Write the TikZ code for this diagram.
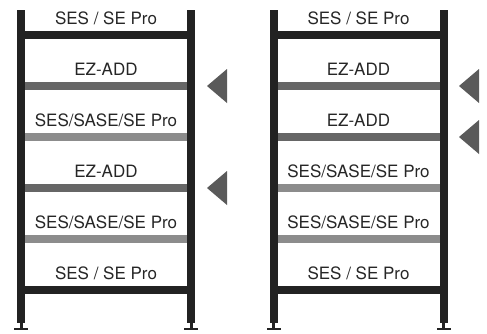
\documentclass[tikz,border=0pt]{standalone}
\usepackage{fontspec}
\setmainfont{TeX Gyre Heros}

\definecolor{postcol}{HTML}{222222}
\definecolor{addcol}{HTML}{666666}
\definecolor{basecol}{HTML}{8C8C8C}
\definecolor{markcol}{HTML}{5A5A5A}

% posts with feet, centres of both posts
\newcommand{\rackframe}[2]{%
  \foreach \px in {#1,#2} {
    \fill[postcol] (\px-4,10) rectangle (\px+4,323);
    \fill[postcol] (\px-1.5,322) rectangle (\px+1.5,328);
    \fill[postcol] (\px-7,328) rectangle (\px+7,330);
  }}

\begin{document}
\begin{tikzpicture}[x=1pt, y=-1pt,
    lbl/.style={font=\fontsize{17}{17}\selectfont, inner sep=0pt, anchor=base, text=black!85},
    shelf/.style={line width=7.5pt}]
  \useasboundingbox (0,0) rectangle (487,333);

  % left rack
  \foreach \y/\col in {35/postcol, 86/addcol, 137/basecol, 188/addcol, 239/basecol, 290/postcol}
    \draw[shelf, \col] (21,\y) -- (191,\y);
  \rackframe{21}{191}
  \node[lbl] (l0) at (106,24) {SES / SE Pro};
  \node[lbl] (l1) at (106,75) {EZ-ADD};
  \node[lbl] (l2) at (106,126) {SES/SASE/SE Pro};
  \node[lbl] (l3) at (106,177) {EZ-ADD};
  \node[lbl] (l4) at (106,228) {SES/SASE/SE Pro};
  \node[lbl] (l5) at (106,279) {SES / SE Pro};
  \foreach \y in {86,188}
    \fill[markcol] (207,\y) -- (227,\y-17) -- (227,\y+17) -- cycle;

  % right rack
  \foreach \y/\col in {35/postcol, 86/addcol, 137/addcol, 188/basecol, 239/basecol, 290/postcol}
    \draw[shelf, \col] (273.5,\y) -- (443.5,\y);
  \rackframe{273.5}{443.5}
  \node[lbl] (r0) at (358.5,24) {SES / SE Pro};
  \node[lbl] (r1) at (358.5,75) {EZ-ADD};
  \node[lbl] (r2) at (358.5,126) {EZ-ADD};
  \node[lbl] (r3) at (358.5,177) {SES/SASE/SE Pro};
  \node[lbl] (r4) at (358.5,228) {SES/SASE/SE Pro};
  \node[lbl] (r5) at (358.5,279) {SES / SE Pro};
  \foreach \y in {86,137}
    \fill[markcol] (459,\y) -- (479,\y-17) -- (479,\y+17) -- cycle;
\end{tikzpicture}
\end{document}
